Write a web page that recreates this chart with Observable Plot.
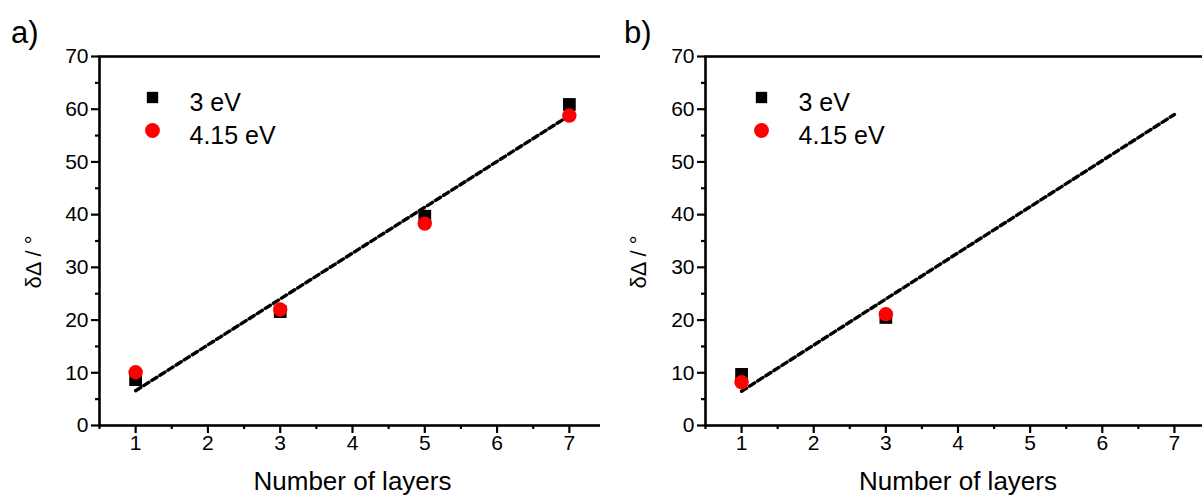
<!DOCTYPE html>
<html>
<head>
<meta charset="utf-8">
<script src="https://cdn.jsdelivr.net/npm/d3@7"></script>
<script src="https://cdn.jsdelivr.net/npm/@observablehq/plot@0.6"></script>
<style>
  html, body { margin: 0; padding: 0; background: #fff; overflow: hidden; }
  #wrap { position: relative; width: 1202px; height: 500px; overflow: hidden; font-family: "Liberation Sans", Arial, sans-serif; color: #000; }
  .panel { position: absolute; top: 0; }
  .panel svg { max-width: none !important; }
  .tag { position: absolute; font-size: 31px; z-index: 5; line-height: 1; }
  .ylab { position: absolute; font-size: 22px; z-index: 5; white-space: nowrap; line-height: 1; transform: translate(-50%, -50%) rotate(-90deg); }
</style>
</head>
<body>
<div id="wrap">
  <div class="panel" id="pa" style="left:0px;"></div>
  <div class="panel" id="pb" style="left:600px;"></div>
  <div class="tag" style="left:11px; top:17px;">a)</div>
  <div class="tag" style="left:624px; top:17px;">b)</div>
  <div class="ylab" id="ya" style="left:34px; top:262px;"></div>
  <div class="ylab" id="yb" style="left:639px; top:262px;"></div>
</div>
<script>
// ---- data ----
const series = ["3 eV", "4.15 eV"];
const xTicks = [1, 2, 3, 4, 5, 6, 7];
const yTicks = [0, 10, 20, 30, 40, 50, 60, 70];

// panel a
const aLayers = [1, 3, 5, 7];
const a3eV = [8.7, 21.6, 39.7, 60.9];
const a415eV = [10.1, 22.0, 38.3, 58.8];
const aFitX = [1, 7];
const aFitY = [6.6, 58.8];

// panel b
const bLayers = [1, 3];
const b3eV = [9.7, 20.5];
const b415eV = [8.2, 21.1];
const bFitX = [1, 7];
const bFitY = [6.5, 59.0];

const yLabel = "δΔ / °";
const xLabel = "Number of layers";

const xMinor = d3.range(0.5, 7.51, 0.5).filter(v => !xTicks.includes(v));
const yMinor = d3.range(5, 70, 10);

function buildPanel(layers, s3, s415, fitX, fitY, width, mLeft, legDx) {
  const pts3 = layers.map((l, i) => ({layers: l, value: s3[i], series: series[0]}));
  const pts415 = layers.map((l, i) => ({layers: l, value: s415[i], series: series[1]}));
  const fit = fitX.map((x, i) => ({layers: x, value: fitY[i]}));
  return Plot.plot({
    width, height: 500,
    marginLeft: mLeft, marginRight: 5, marginTop: 56, marginBottom: 75,
    style: {fontFamily: "Liberation Sans, Arial, sans-serif", fontSize: "21px", color: "#000", background: "white", overflow: "visible", maxWidth: "none"},
    x: {domain: [0.5, 7.5], label: null},
    y: {domain: [0, 70], label: null},
    marks: [
      Plot.axisY({ticks: yTicks, tickSize: 8, strokeWidth: 2.2, text: null, label: null}),
      Plot.axisY({ticks: yMinor, tickSize: 4, strokeWidth: 2.2, text: null, label: null}),
      Plot.axisX({ticks: xTicks, tickSize: 8, strokeWidth: 2.2, text: null, label: null}),
      Plot.axisX({ticks: xMinor, tickSize: 4, strokeWidth: 2.2, text: null, label: null}),
      Plot.text(yTicks, {y: d => d, frameAnchor: "left", dx: -11, text: d => String(d), textAnchor: "end", fontSize: 21, fill: "#000"}),
      Plot.text(xTicks, {x: d => d, frameAnchor: "bottom", dy: 24, text: d => String(d), fontSize: 21, fill: "#000"}),
      Plot.line(fit, {x: "layers", y: "value", stroke: "#000", strokeWidth: 3.4, strokeDasharray: "6,3.6", strokeLinecap: "round"}),
      Plot.dot(pts3, {x: "layers", y: "value", symbol: "square", r: 7.2, fill: "#000", stroke: "none"}),
      Plot.dot(pts415, {x: "layers", y: "value", symbol: "circle", r: 7.2, fill: "#ff0000", stroke: "none"}),
      // legend
      Plot.dot([series[0]], {frameAnchor: "top-left", dx: legDx, dy: 41, symbol: "square", r: 6.4, fill: "#000", stroke: "none"}),
      Plot.dot([series[1]], {frameAnchor: "top-left", dx: legDx, dy: 74, symbol: "circle", r: 7.4, fill: "#ff0000", stroke: "none"}),
      Plot.text([series[0]], {frameAnchor: "top-left", dx: legDx + 37, dy: 37, text: d => d, textAnchor: "start", fontSize: 25, fill: "#000"}),
      Plot.text([series[1]], {frameAnchor: "top-left", dx: legDx + 37, dy: 70, text: d => d, textAnchor: "start", fontSize: 25, fill: "#000"}),
      Plot.text([xLabel], {frameAnchor: "bottom", dy: 64, fontSize: 26, fill: "#000"}),
      Plot.frame({stroke: "#000", strokeWidth: 2.6})
    ]
  });
}

document.getElementById("pa").append(buildPanel(aLayers, a3eV, a415eV, aFitX, aFitY, 610, 99, 53));
document.getElementById("pb").append(buildPanel(bLayers, b3eV, b415eV, bFitX, bFitY, 615, 105, 56));
document.getElementById("ya").textContent = yLabel;
document.getElementById("yb").textContent = yLabel;
</script>
</body>
</html>
